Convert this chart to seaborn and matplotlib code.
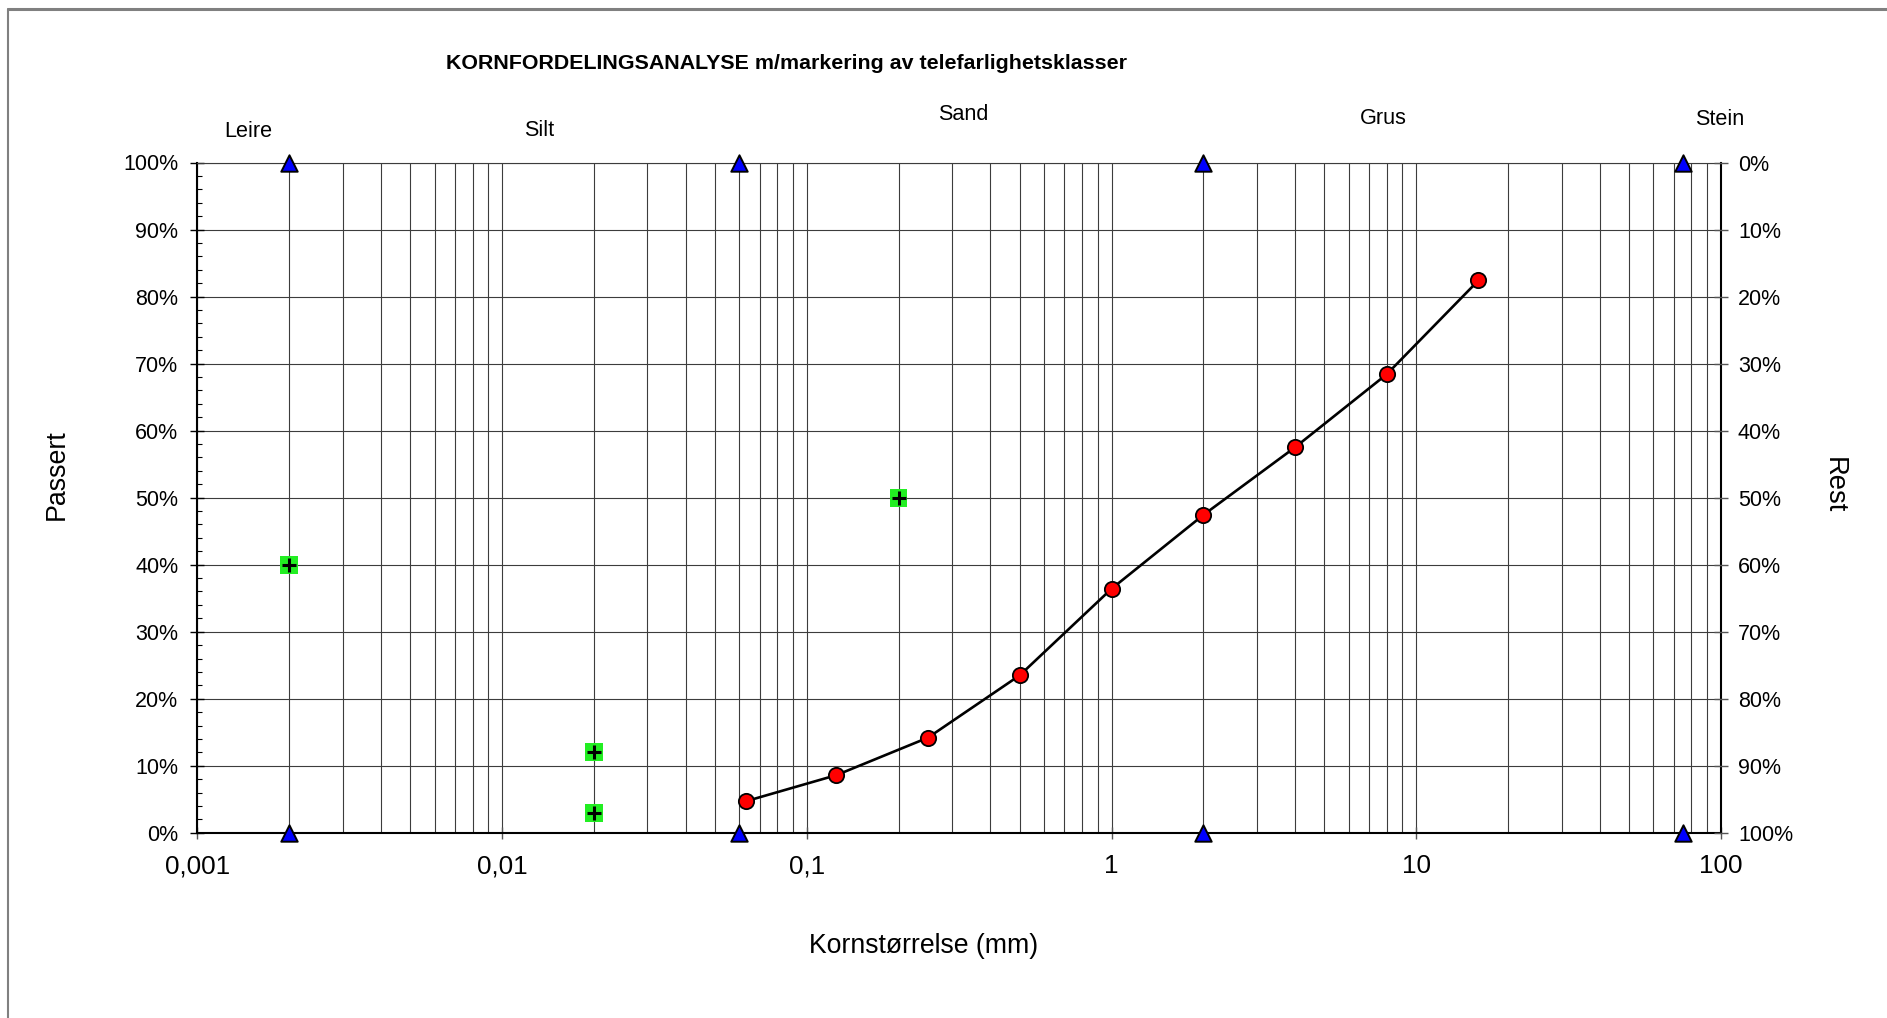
import numpy as np
import pandas as pd
import matplotlib
matplotlib.use("Agg")
import matplotlib.pyplot as plt
import seaborn as sns
from matplotlib.ticker import FixedLocator, FixedFormatter, NullFormatter, MultipleLocator, LogLocator
from matplotlib.lines import Line2D

# ---------------- data ----------------
sieve_mm = [0.063, 0.125, 0.25, 0.5, 1, 2, 4, 8, 16]
passert_pct = [4.7, 8.6, 14.2, 23.5, 36.4, 47.4, 57.5, 68.4, 82.4]

limit_mm = [0.002, 0.02, 0.02, 0.2]
limit_pct = [40, 12, 3, 50]

boundary_mm = [0.002, 0.002, 0.06, 0.06, 2, 2, 75, 75]
boundary_pct = [0, 100, 0, 100, 0, 100, 0, 100]

x_ticks = [0.001, 0.01, 0.1, 1, 10, 100]
x_tick_labels = ["0,001", "0,01", "0,1", "1", "10", "100"]
y_ticks = [0, 10, 20, 30, 40, 50, 60, 70, 80, 90, 100]
y_tick_labels = ["0%", "10%", "20%", "30%", "40%", "50%", "60%", "70%", "80%", "90%", "100%"]
rest_tick_labels = ["100%", "90%", "80%", "70%", "60%", "50%", "40%", "30%", "20%", "10%", "0%"]

zone_names = ["Leire", "Silt", "Sand", "Grus", "Stein"]
title_text = "KORNFORDELINGSANALYSE m/markering av telefarlighetsklasser"
x_label = "Kornstørrelse (mm)"
y_label_left = "Passert"
y_label_right = "Rest"

# ---------------- style ----------------
sns.set_theme(style="white")
plt.rcParams['font.family'] = ['Liberation Sans', 'DejaVu Sans']

W, H = 1887, 1018
fig = plt.figure(figsize=(W / 100, H / 100), dpi=100)
fig.patch.set_facecolor("white")

ax_l, ax_r, ax_t, ax_b = 197.4, 1720.9, 162.5, 832.8
ax = fig.add_axes([ax_l / W, 1 - ax_b / H, (ax_r - ax_l) / W, (ax_b - ax_t) / H])
ax.set_facecolor("white")

ax.set_xscale("log")
ax.set_xlim(0.001, 100)
ax.set_ylim(0, 100)

grid_col = "#3c3c3c"
ax.xaxis.set_major_locator(FixedLocator(x_ticks))
ax.xaxis.set_major_formatter(FixedFormatter(x_tick_labels))
ax.xaxis.set_minor_locator(LogLocator(base=10, subs=np.arange(2, 10)))
ax.xaxis.set_minor_formatter(NullFormatter())
ax.yaxis.set_major_locator(FixedLocator(y_ticks))
ax.yaxis.set_major_formatter(FixedFormatter(y_tick_labels))
ax.yaxis.set_minor_locator(MultipleLocator(2))
ax.grid(which="major", axis="both", color=grid_col, linewidth=0.8)
ax.grid(which="minor", axis="x", color=grid_col, linewidth=0.8)
ax.set_axisbelow(True)

ax.tick_params(axis="x", which="major", direction="inout", length=9, width=1,
               color="#555555", pad=10.8, labelsize=18.7, labelcolor="black", bottom=True)
ax.tick_params(axis="x", which="minor", length=0)
ax.tick_params(axis="y", which="major", direction="inout", length=9.5, width=1,
               color="black", pad=9, labelsize=15.5, labelcolor="black", left=True)
ax.tick_params(axis="y", which="minor", direction="in", length=3.6, width=0.8,
               color="black", left=True)

for s in ["left", "bottom"]:
    ax.spines[s].set_color("black")
    ax.spines[s].set_linewidth(1.5)
ax.spines["top"].set_color(grid_col)
ax.spines["top"].set_linewidth(0.8)
ax.spines["right"].set_color("black")
ax.spines["right"].set_linewidth(1.5)

# ---------------- marks ----------------
curve = pd.DataFrame({"d": sieve_mm, "p": passert_pct})
sns.lineplot(data=curve, x="d", y="p", ax=ax, sort=False, color="black",
             linewidth=1.9, marker="o", markersize=11, markerfacecolor="red",
             markeredgecolor="black", markeredgewidth=1.3, zorder=5)

lim = pd.DataFrame({"d": limit_mm, "p": limit_pct})
sns.scatterplot(data=lim, x="d", y="p", ax=ax, marker="s", s=165, color="#22ee22",
                edgecolor="none", zorder=6)
sns.scatterplot(data=lim, x="d", y="p", ax=ax, marker="+", s=100, color="black",
                linewidth=2.2, zorder=7)

bnd = pd.DataFrame({"d": boundary_mm, "p": boundary_pct})
sns.scatterplot(data=bnd, x="d", y="p", ax=ax, marker="^", s=140, color="#0000ff",
                edgecolor="black", linewidth=1.4, zorder=8, clip_on=False)

ax.set_xlim(0.001, 100)
ax.set_ylim(0, 100)

# ---------------- labels ----------------
ax.set_xlabel(x_label, fontsize=19.2, color="black")
ax.xaxis.label.set_va("center")
ax.xaxis.set_label_coords((924 - ax_l) / (ax_r - ax_l), (ax_b - 946) / (ax_b - ax_t))
ax.set_ylabel(y_label_left, fontsize=19.3, color="black")
ax.yaxis.label.set_va("center")
ax.yaxis.set_label_coords((57 - ax_l) / (ax_r - ax_l), (ax_b - 475) / (ax_b - ax_t))

ax2 = ax.twinx()
ax2.set_ylim(100, 0)
ax2.yaxis.set_major_locator(FixedLocator(y_ticks))
ax2.yaxis.set_major_formatter(FixedFormatter(rest_tick_labels[::-1]))
ax2.tick_params(axis="y", which="major", direction="inout", length=9.5, width=1,
                color="#555555", pad=7.5, labelsize=15.5, labelcolor="black", right=True)
for s in ax2.spines.values():
    s.set_visible(False)
ax2.set_ylabel(y_label_right, fontsize=19.7, rotation=270, color="black")
ax2.yaxis.label.set_va("center")
ax2.yaxis.set_label_coords((1834 - ax_l) / (ax_r - ax_l), (ax_b - 485) / (ax_b - ax_t))

fig.text(786 / W, 1 - 63.5 / H, title_text, ha="center", va="center",
         fontsize=15.4, fontweight="bold", color="black")

zone_pos = [(248, 131.5), (539, 130.5), (963, 114.5), (1383, 118.5), (1720, 119.5)]
for name, (px, py) in zip(zone_names, zone_pos):
    fig.text(px / W, 1 - py / H, name, ha="center", va="center", fontsize=15.6, color="black")

# outer chart border (top and left visible)
fig.add_artist(Line2D([8 / W, 1.0], [1 - 9 / H, 1 - 9 / H], color="#808080", linewidth=2.2))
fig.add_artist(Line2D([8 / W, 8 / W], [1 - 9 / H, 0.0], color="#808080", linewidth=1.5))

fig.savefig("out.png", dpi=100, facecolor="white")
